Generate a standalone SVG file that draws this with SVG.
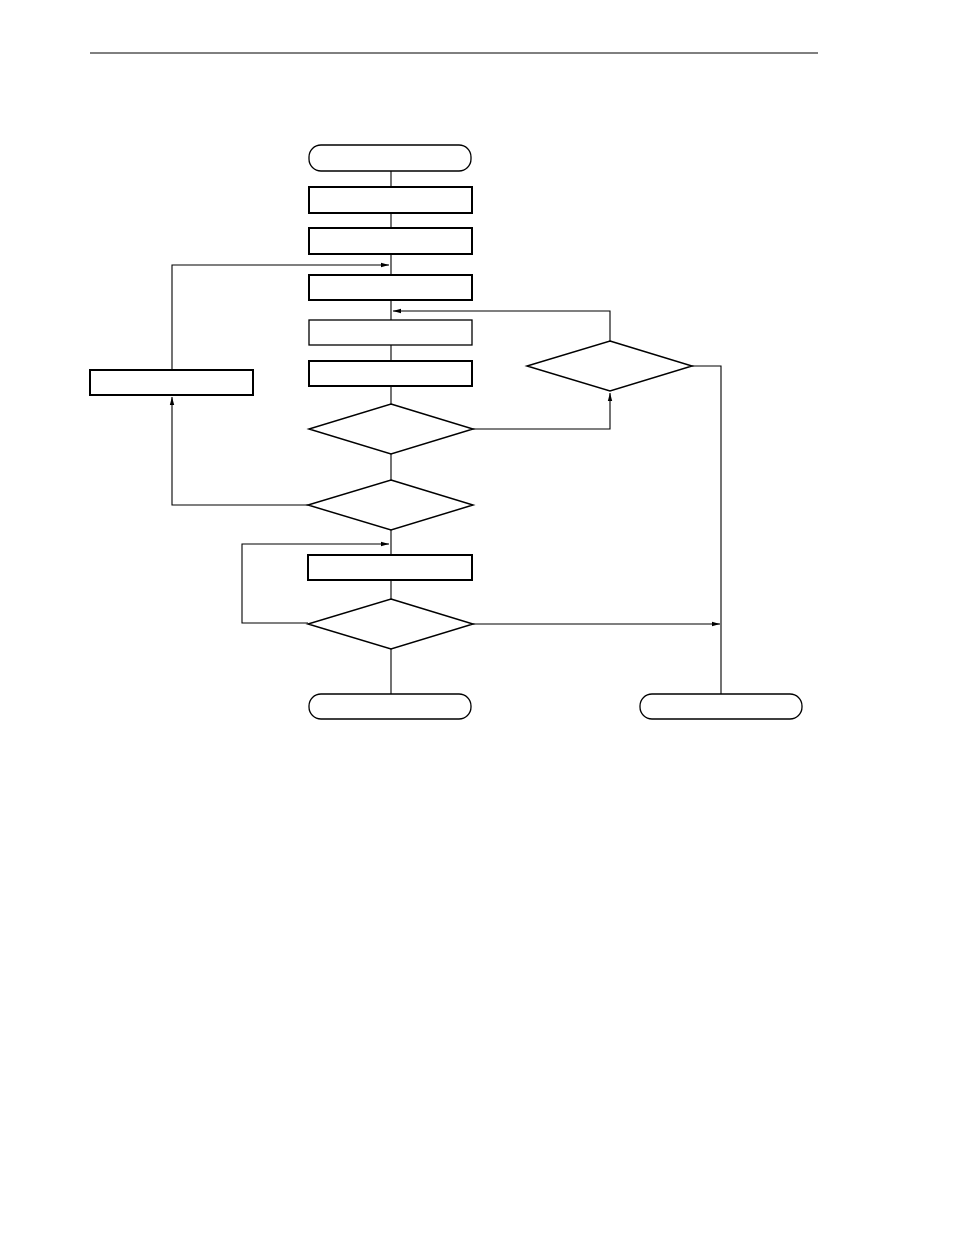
<svg xmlns="http://www.w3.org/2000/svg" width="954" height="1235" viewBox="0 0 954 1235">
<style>
.n{fill:#fff;stroke:#000;stroke-width:2}
.t{fill:#fff;stroke:#000;stroke-width:1.3}
.d{fill:#fff;stroke:#000;stroke-width:1.5}
.c{fill:none;stroke:#000;stroke-width:1.1}
</style>
<defs><marker id="a" markerWidth="8" markerHeight="6" refX="8" refY="3" orient="auto" markerUnits="userSpaceOnUse"><path d="M0,0.8 L8,3 L0,5.2z" fill="#000"/></marker></defs>
<rect width="954" height="1235" fill="#fff"/>
<line x1="90" y1="53" x2="818" y2="53" stroke="#000" stroke-width="1"/>
<g id="connectors">
<path class="c" d="M391,171V187M391,213V228M391,254V275M391,300V320M391,345V361M391,386V404M391,454V480M391,530V555M391,580V599M391,649V694"/>
<path class="c" d="M172,370V265H389" marker-end="url(#a)"/>
<path class="c" d="M308,505H172V397" marker-end="url(#a)"/>
<path class="c" d="M473,429H610V393" marker-end="url(#a)"/>
<path class="c" d="M610,341V311H393" marker-end="url(#a)"/>
<path class="c" d="M692,366H721V694"/>
<path class="c" d="M473,624H720" marker-end="url(#a)"/>
<path class="c" d="M308,623H242V544H389" marker-end="url(#a)"/>
</g>
<g id="start"><rect class="t" x="309" y="145" width="162" height="26" rx="12"/></g>
<g id="b1"><rect class="n" x="309" y="187" width="163" height="26"/></g>
<g id="b2"><rect class="n" x="309" y="228" width="163" height="26"/></g>
<g id="b3"><rect class="n" x="309" y="275" width="163" height="25"/></g>
<g id="b4"><rect class="t" x="309" y="320" width="163" height="25"/></g>
<g id="b5"><rect class="n" x="309" y="361" width="163" height="25"/></g>
<g id="bl"><rect class="n" x="90" y="370" width="163" height="25"/></g>
<g id="d1"><polygon class="d" points="391,404 473,429 391,454 309,429"/></g>
<g id="dr"><polygon class="d" points="610,341 692,366 610,391 527,366"/></g>
<g id="d2"><polygon class="d" points="391,480 473,505 391,530 308,505"/></g>
<g id="b6"><rect class="n" x="308" y="555" width="164" height="25"/></g>
<g id="d3"><polygon class="d" points="391,599 473,624 391,649 308,624"/></g>
<g id="end1"><rect class="t" x="309" y="694" width="162" height="25" rx="12"/></g>
<g id="end2"><rect class="t" x="640" y="694" width="162" height="25" rx="12"/></g>
</svg>
